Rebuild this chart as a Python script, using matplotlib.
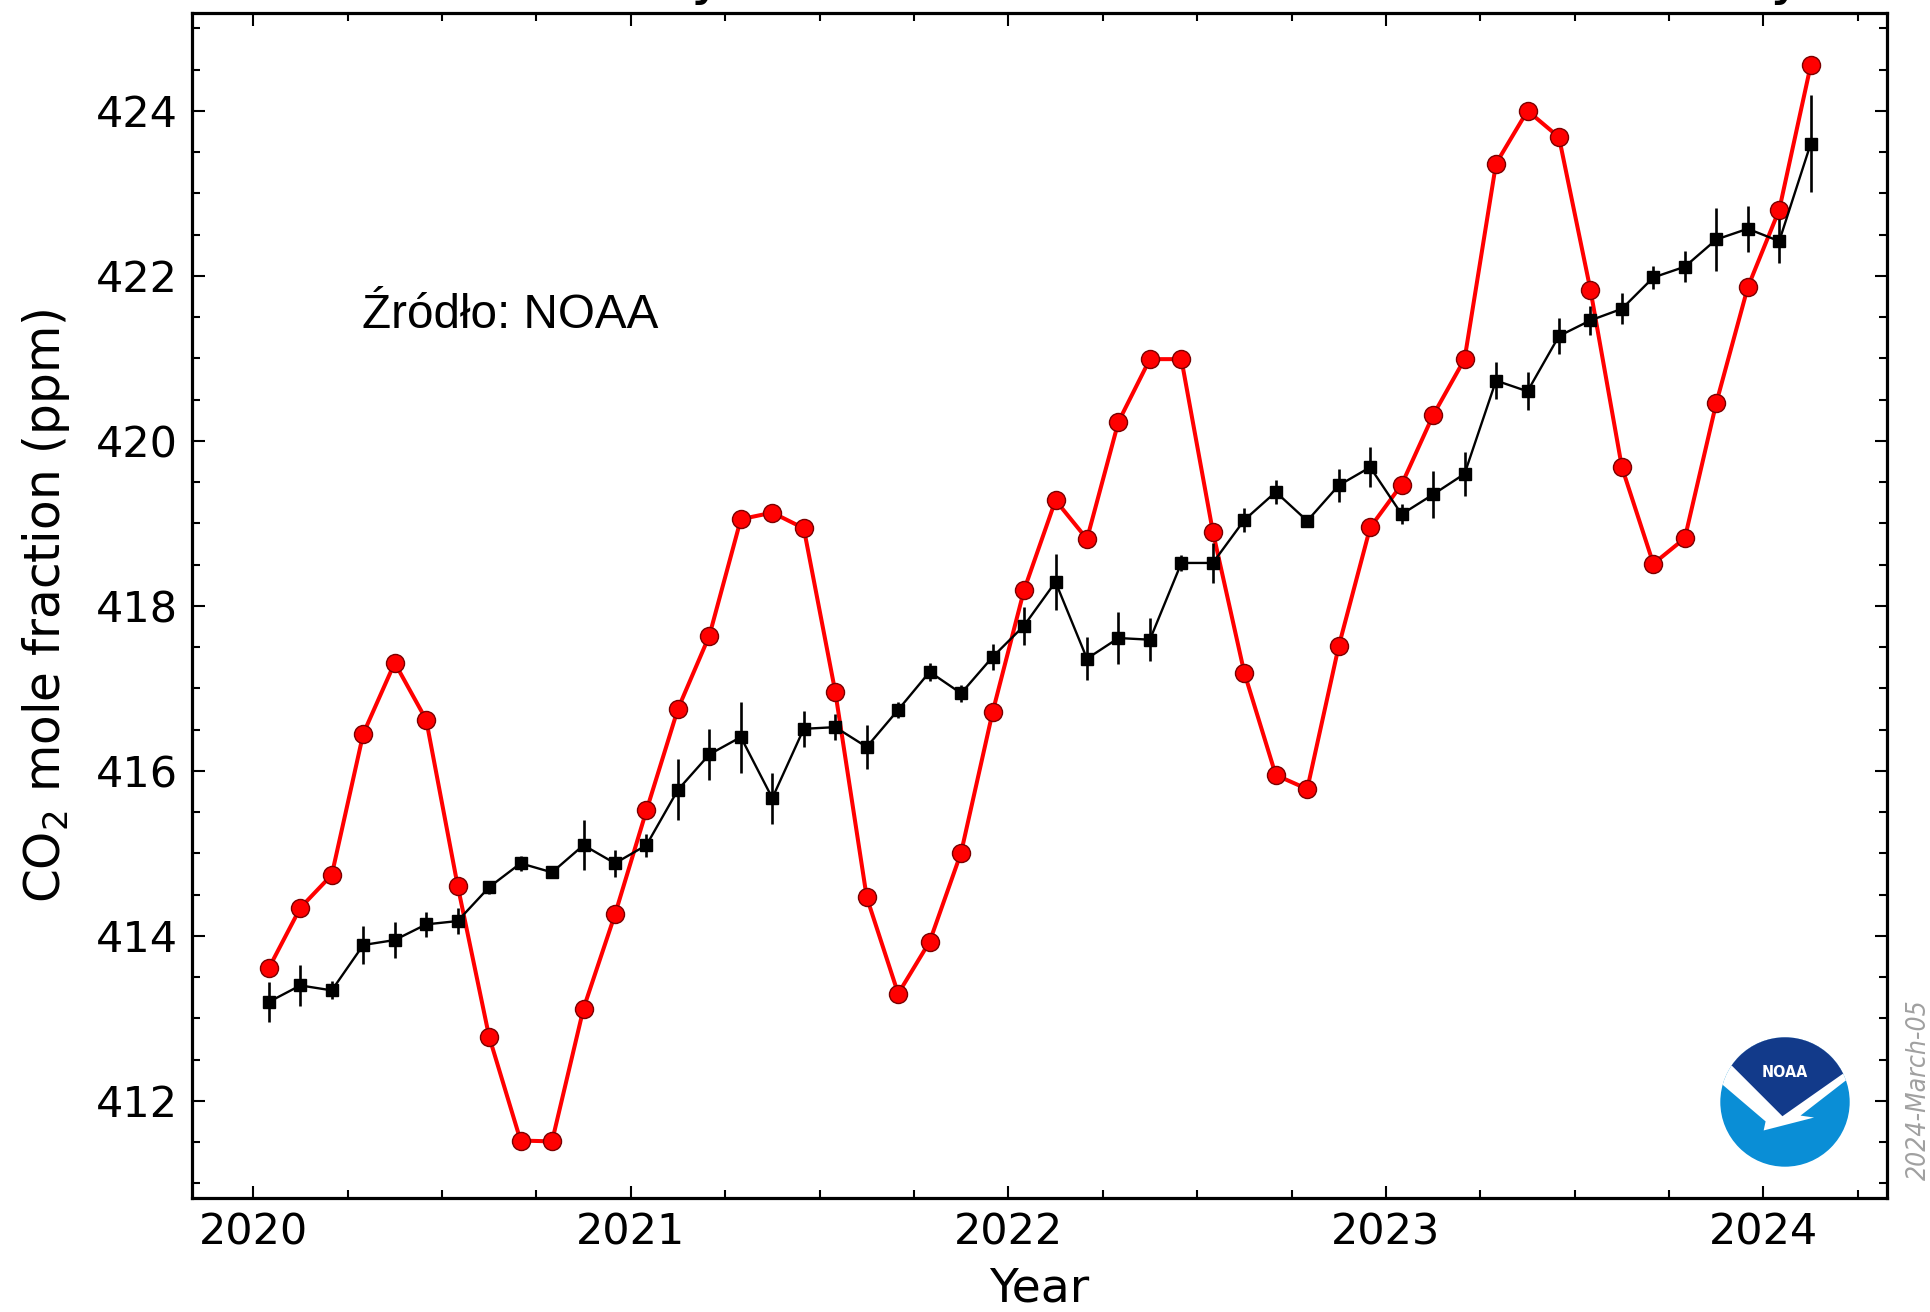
import matplotlib.pyplot as plt
import matplotlib.patches as mpatches
import numpy as np
import pandas as pd

# monthly mean CO2 at Mauna Loa, Jan 2020 - Feb 2024
months = pd.date_range('2020-01-01', periods=50, freq='MS')

monthly = [413.61, 414.34, 414.74, 416.45, 417.31, 416.62, 414.61, 412.78, 411.52, 411.51, 413.12, 414.26,
           415.52, 416.75, 417.64, 419.05, 419.13, 418.94, 416.96, 414.47, 413.30, 413.93, 415.01, 416.71,
           418.19, 419.28, 418.81, 420.23, 420.99, 420.99, 418.90, 417.19, 415.95, 415.78, 417.51, 418.95,
           419.47, 420.31, 420.99, 423.36, 424.00, 423.68, 421.83, 419.68, 418.51, 418.82, 420.46, 421.86,
           422.80, 424.55]

deseason = [413.20, 413.40, 413.34, 413.89, 413.95, 414.14, 414.18, 414.59, 414.88, 414.77, 415.10, 414.88,
            415.10, 415.77, 416.20, 416.41, 415.67, 416.51, 416.53, 416.29, 416.74, 417.20, 416.94, 417.38,
            417.76, 418.29, 417.36, 417.61, 417.59, 418.52, 418.52, 419.04, 419.38, 419.03, 419.46, 419.68,
            419.11, 419.35, 419.60, 420.73, 420.60, 421.27, 421.46, 421.60, 421.98, 422.11, 422.44, 422.57,
            422.42, 423.60]

unc = [0.24, 0.25, 0.11, 0.23, 0.22, 0.15, 0.16, 0.08, 0.09, 0.06, 0.30, 0.16,
       0.14, 0.37, 0.31, 0.43, 0.31, 0.22, 0.16, 0.27, 0.10, 0.11, 0.10, 0.16,
       0.23, 0.34, 0.26, 0.31, 0.26, 0.10, 0.24, 0.15, 0.15, 0.06, 0.20, 0.24,
       0.12, 0.28, 0.27, 0.22, 0.23, 0.22, 0.18, 0.19, 0.14, 0.19, 0.38, 0.28,
       0.27, 0.59]

yticks = [412, 414, 416, 418, 420, 422, 424]
xticks = [2020, 2021, 2022, 2023, 2024]

x = months.year + (months.month - 0.5) / 12.0

fig = plt.figure(figsize=(19.31, 13.12), dpi=100)
ax = fig.add_axes([0.0994, 0.0869, 0.8778, 0.9032])

ax.plot(x, monthly, '-o', color='red', lw=2.9, ms=13, mfc='red', mec='#7a0000', mew=1.0, zorder=2)
ax.errorbar(x, deseason, yerr=unc, fmt='s-', color='black', ms=8.8, lw=1.7,
            elinewidth=1.9, capsize=0, zorder=3)

ax.set_xticks(xticks)
ax.set_yticks(yticks)
ax.set_xticks(np.arange(2020.0, 2024.5, 0.25), minor=True)
ax.set_yticks(np.arange(411.0, 425.5, 0.5), minor=True)
ax.set_xlim(2019.838, 2024.327)
ax.set_ylim(410.824, 425.185)
ax.tick_params(which='both', direction='in', top=True, right=True, labelsize=31, width=1.5)
ax.tick_params(which='major', length=9, pad=10)
ax.tick_params(which='minor', length=6)
for s in ax.spines.values():
    s.set_linewidth(2.3)

ax.set_xlabel('Year', fontsize=34, labelpad=9)
ax.set_ylabel('CO$_2$ mole fraction (ppm)', fontsize=35, labelpad=17)

# title is cut off by the top edge of the picture
fig.text(0.5383, 1.0053, 'Recent monthly mean CO₂ at Mauna Loa Observatory',
         ha='center', va='baseline', fontsize=41)

fig.text(362 / 1931, 1 - 328 / 1312, 'Źródło: NOAA', fontsize=34.3,
         family='Liberation Sans', va='baseline', ha='left')

fig.text(1919 / 1931, 1 - 1090 / 1312, '2024-March-05', rotation=90, color='#a0a0a0',
         fontsize=19, style='italic', fontstretch='condensed', ha='center', va='center')

# NOAA logo
lax = fig.add_axes([(1785 - 70) / 1931, 1 - (1102 + 70) / 1312, 140 / 1931, 140 / 1312])
lax.set_xlim(-1.082, 1.082)
lax.set_ylim(-1.082, 1.082)
lax.axis('off')
circ = mpatches.Circle((0, 0), 1.0, facecolor='#0a8ed6', edgecolor='none')
lax.add_patch(circ)
white = mpatches.Polygon([(-1.2, 0.36), (-0.98, 0.28), (-0.30, -0.30), (-0.33, -0.44), (0.02, -0.35),
                          (0.45, -0.24), (0.24, -0.21), (0.95, 0.34), (1.2, 0.42), (1.2, 1.2), (-1.2, 1.2)],
                         facecolor='white', edgecolor='none')
lax.add_patch(white)
white.set_clip_path(circ)
dark = mpatches.Polygon([(-1.2, 0.64), (-0.82, 0.56), (-0.04, -0.22), (0.90, 0.44), (1.2, 0.52),
                         (1.2, 1.2), (-1.2, 1.2)], facecolor='#123a8a', edgecolor='none')
lax.add_patch(dark)
dark.set_clip_path(circ)
lax.text(0, 0.45, 'NOAA', color='white', fontsize=11.5, fontweight='bold',
         ha='center', va='center', fontstretch='condensed')

fig.savefig('out.png', dpi=100)
